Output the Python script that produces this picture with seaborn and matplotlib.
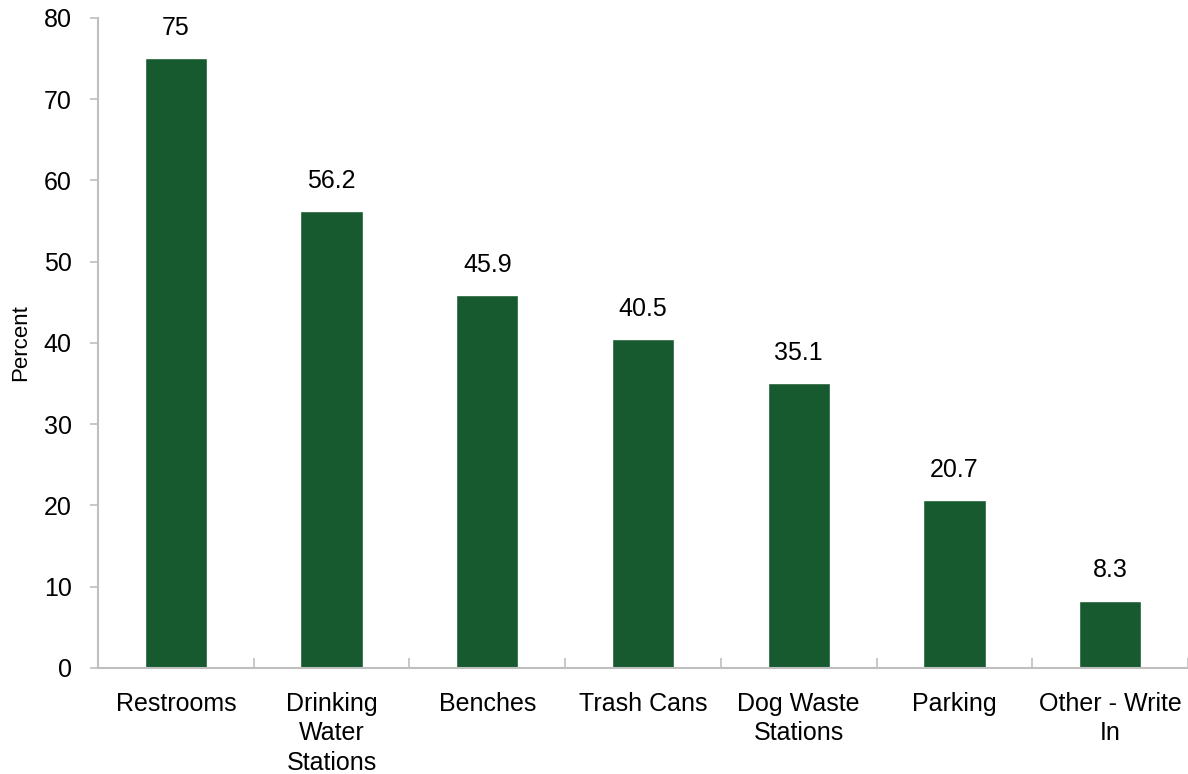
import pandas as pd
import numpy as np
import matplotlib.pyplot as plt
import seaborn as sns

categories = ["Restrooms", "Drinking\nWater\nStations", "Benches", "Trash Cans",
              "Dog Waste\nStations", "Parking", "Other - Write\nIn"]
percents = [75, 56.2, 45.9, 40.5, 35.1, 20.7, 8.3]
y_ticks = [0, 10, 20, 30, 40, 50, 60, 70, 80]

sns.set_style("white")
plt.rcParams["font.family"] = ["Liberation Sans", "DejaVu Sans"]
plt.rcParams["text.color"] = "black"
plt.rcParams["xtick.labelcolor"] = "black"
plt.rcParams["ytick.labelcolor"] = "black"
plt.rcParams["axes.labelcolor"] = "black"

df = pd.DataFrame({"Category": categories, "Percent": percents})

fig = plt.figure(figsize=(11.88, 7.74), dpi=100)
ax = fig.add_axes([0.0825, 0.137, 0.9175, 0.840])
sns.barplot(data=df, x="Category", y="Percent", color="#175A30",
            width=0.4, saturation=1, ax=ax)

for container in ax.containers:
    labels = [f"{v:g}" for v in container.datavalues]
    ax.bar_label(container, labels=labels, padding=13, fontsize=18, color="black")

ax.set_ylim(0, 80)
ax.set_yticks(y_ticks)
ax.set_xlim(-0.5, len(categories) - 0.5)
ax.set_xlabel("")
ax.set_ylabel("Percent", fontsize=16)
ax.yaxis.set_label_coords(-0.061, 0.5)

ax.tick_params(axis="y", labelsize=18, length=6, color="#BFBFBF", width=1.2,
               direction="out", left=True, pad=13)
ax.tick_params(axis="x", labelsize=18, length=0, pad=17)
ax.set_xticks(np.arange(len(categories)) + 0.5, minor=True)
ax.tick_params(axis="x", which="minor", direction="in", length=7,
               color="#BFBFBF", width=1.2, bottom=True)

for lbl in ax.get_xticklabels():
    lbl.set_linespacing(1.3)

for side in ["top", "right"]:
    ax.spines[side].set_visible(False)
for side in ["left", "bottom"]:
    ax.spines[side].set_color("#BFBFBF")
    ax.spines[side].set_linewidth(1.5)

fig.savefig("out.png", dpi=100)
